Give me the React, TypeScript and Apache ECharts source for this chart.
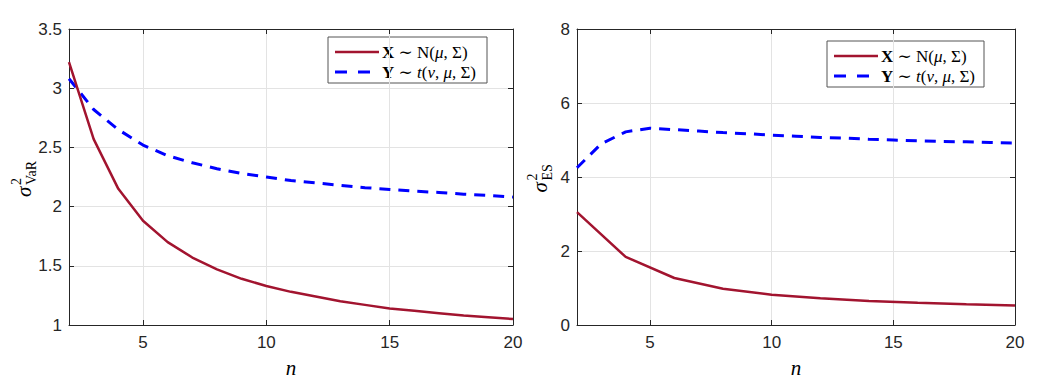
import React, { useEffect, useRef } from "react";
import * as echarts from "echarts";

// ---- data ----
const nAll = [2, 3, 4, 5, 6, 7, 8, 9, 10, 11, 12, 13, 14, 15, 16, 17, 18, 19, 20];
const nEven = [2, 4, 6, 8, 10, 12, 14, 16, 18, 20];
const varNormal = [3.22, 2.57, 2.15, 1.88, 1.70, 1.57, 1.47, 1.39, 1.33, 1.28, 1.24, 1.20, 1.17, 1.14, 1.12, 1.10, 1.08, 1.065, 1.05];
const varT = [3.08, 2.82, 2.65, 2.52, 2.43, 2.37, 2.32, 2.28, 2.25, 2.22, 2.20, 2.18, 2.16, 2.145, 2.13, 2.12, 2.105, 2.095, 2.08];
const esNormal = [3.05, 1.84, 1.27, 0.98, 0.82, 0.72, 0.65, 0.60, 0.56, 0.53];
const esT = [4.25, 4.9, 5.22, 5.32, 5.28, 5.24, 5.2, 5.17, 5.13, 5.1, 5.07, 5.05, 5.02, 5.0, 4.98, 4.96, 4.95, 4.93, 4.92];
const xTicks = [5, 10, 15, 20];

const RED = "#A2142F";
const BLUE = "#0000FF";
const AX = "#262626";
const GRIDC = "#e3e3e3";
const TICKFONT = "'Liberation Sans', Arial, Helvetica, sans-serif";
const SERIF = "'Liberation Serif', 'DejaVu Serif', serif";

function pairs(xs: number[], ys: number[]) {
  return xs.map((x, i) => [x, ys[i]]);
}

function xAxisDef(gridIndex: number, top: boolean) {
  return {
    type: "value",
    gridIndex,
    position: top ? "top" : "bottom",
    min: 2,
    max: 20,
    axisLine: { show: true, onZero: false, lineStyle: { color: AX, width: 1 } },
    axisTick: { show: true, inside: true, length: 5, customValues: xTicks, lineStyle: { color: AX } },
    axisLabel: {
      show: !top,
      customValues: xTicks,
      color: AX,
      fontFamily: TICKFONT,
      fontSize: 17,
      margin: 9,
    },
    splitLine: { show: !top, lineStyle: { color: GRIDC, width: 1 } },
  };
}

function yAxisDef(gridIndex: number, right: boolean, min: number, max: number, interval: number) {
  return {
    type: "value",
    gridIndex,
    position: right ? "right" : "left",
    min,
    max,
    interval,
    axisLine: { show: true, onZero: false, lineStyle: { color: AX, width: 1 } },
    axisTick: { show: true, inside: true, length: 5, lineStyle: { color: AX } },
    axisLabel: {
      show: !right,
      color: AX,
      fontFamily: TICKFONT,
      fontSize: 17,
      margin: 7,
    },
    splitLine: { show: !right, lineStyle: { color: GRIDC, width: 1 } },
  };
}

function legendGraphic(x: number, y: number, w: number, h: number) {
  const l1 = y + 15;
  const l2 = y + 35;
  const rich = {
    b: { fontFamily: SERIF, fontSize: 17, fontWeight: "bold", fill: "#000" },
    i: { fontFamily: SERIF, fontSize: 17, fontStyle: "italic", fill: "#000" },
  };
  return {
    type: "group",
    children: [
      {
        type: "rect",
        shape: { x, y, width: w, height: h },
        style: { fill: "#fff", stroke: "#555", lineWidth: 1 },
      },
      {
        type: "line",
        shape: { x1: x + 7, y1: l1, x2: x + 51, y2: l1 },
        style: { stroke: RED, lineWidth: 2.5 },
      },
      {
        type: "line",
        shape: { x1: x + 7, y1: l2, x2: x + 51, y2: l2 },
        style: { stroke: BLUE, lineWidth: 3, lineDash: [12, 11] },
      },
      {
        type: "text",
        x: x + 54,
        y: l1,
        style: {
          text: "{b|X} ∼ N({i|μ}, Σ)",
          fontFamily: SERIF,
          fontSize: 17,
          fill: "#000",
          verticalAlign: "middle",
          align: "left",
          rich,
        },
      },
      {
        type: "text",
        x: x + 54,
        y: l2,
        style: {
          text: "{b|Y} ∼ {i|t}({i|ν}, {i|μ}, Σ)",
          fontFamily: SERIF,
          fontSize: 17,
          fill: "#000",
          verticalAlign: "middle",
          align: "left",
          rich,
        },
      },
    ],
  };
}

function yLabelGraphic(cx: number, cy: number, sub: string, subW: number) {
  const total = 12 + subW;
  const start = -total / 2;
  return {
    type: "group",
    x: cx,
    y: cy,
    rotation: Math.PI / 2,
    children: [
      {
        type: "text",
        x: start,
        y: 0,
        style: { text: "σ", fontFamily: SERIF, fontSize: 21, fontStyle: "italic", fill: "#000", align: "left", verticalAlign: "middle" },
      },
      {
        type: "text",
        x: start + 12,
        y: -8,
        style: { text: "2", fontFamily: SERIF, fontSize: 14, fill: "#000", align: "left", verticalAlign: "middle" },
      },
      {
        type: "text",
        x: start + 12,
        y: 7,
        style: { text: sub, fontFamily: SERIF, fontSize: 14, fill: "#000", align: "left", verticalAlign: "middle" },
      },
    ],
  };
}

export default function App() {
  const ref = useRef<HTMLDivElement>(null);
  useEffect(() => {
    if (!ref.current) return;
    const chart = echarts.init(ref.current, null, { renderer: "svg" });
    const option: any = {
      animation: false,
      backgroundColor: "#fff",
      grid: [
        { left: 69, top: 29, width: 444, height: 296, containLabel: false },
        { left: 577, top: 29, width: 438, height: 296, containLabel: false },
      ],
      xAxis: [xAxisDef(0, false), xAxisDef(0, true), xAxisDef(1, false), xAxisDef(1, true)],
      yAxis: [
        yAxisDef(0, false, 1, 3.5, 0.5),
        yAxisDef(0, true, 1, 3.5, 0.5),
        yAxisDef(1, false, 0, 8, 2),
        yAxisDef(1, true, 0, 8, 2),
      ],
      series: [
        {
          type: "line",
          name: "X ~ N(μ, Σ)",
          xAxisIndex: 0,
          yAxisIndex: 0,
          data: pairs(nAll, varNormal),
          showSymbol: false,
          lineStyle: { color: RED, width: 2.5 },
          itemStyle: { color: RED },
          z: 3,
        },
        {
          type: "line",
          name: "Y ~ t(ν, μ, Σ)",
          xAxisIndex: 0,
          yAxisIndex: 0,
          data: pairs(nAll, varT),
          showSymbol: false,
          lineStyle: { color: BLUE, width: 3, type: [11, 8] },
          itemStyle: { color: BLUE },
          z: 2,
        },
        {
          type: "line",
          name: "X ~ N(μ, Σ) ES",
          xAxisIndex: 2,
          yAxisIndex: 2,
          data: pairs(nEven, esNormal),
          showSymbol: false,
          lineStyle: { color: RED, width: 2.5 },
          itemStyle: { color: RED },
          z: 3,
        },
        {
          type: "line",
          name: "Y ~ t(ν, μ, Σ) ES",
          xAxisIndex: 2,
          yAxisIndex: 2,
          data: pairs(nAll, esT),
          showSymbol: false,
          lineStyle: { color: BLUE, width: 3, type: [11, 8] },
          itemStyle: { color: BLUE },
          z: 2,
        },
      ],
      graphic: [
        legendGraphic(328, 37, 159, 46),
        legendGraphic(827, 41, 157, 46),
        yLabelGraphic(24, 178, "VaR", 26),
        yLabelGraphic(540, 178, "ES", 17),
        {
          type: "text",
          x: 291,
          y: 368,
          style: { text: "n", fontFamily: SERIF, fontSize: 21, fontStyle: "italic", fill: "#000", align: "center", verticalAlign: "middle" },
        },
        {
          type: "text",
          x: 796,
          y: 368,
          style: { text: "n", fontFamily: SERIF, fontSize: 21, fontStyle: "italic", fill: "#000", align: "center", verticalAlign: "middle" },
        },
      ],
    };
    chart.setOption(option);
    return () => chart.dispose();
  }, []);
  return (
    <div
      ref={ref}
      style={{ position: "absolute", left: 0, top: 0, width: 1046, height: 385, background: "#fff" }}
    />
  );
}
